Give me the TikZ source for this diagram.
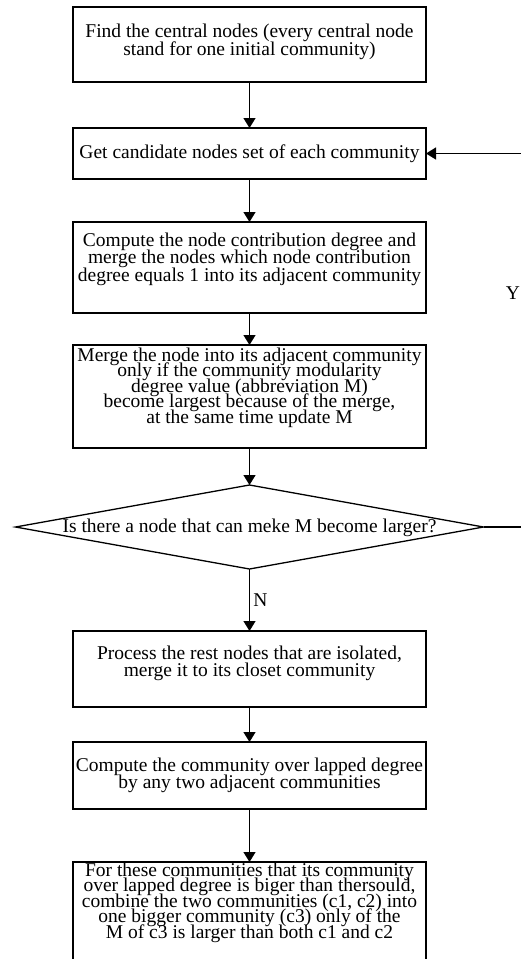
\documentclass[tikz,border=0pt]{standalone}
\usepackage{fontspec}
\setmainfont{Liberation Serif}
\usetikzlibrary{arrows.meta}
\usetikzlibrary{positioning, shapes.geometric}

\newcommand{\boxfont}{\fontsize{19.5}{17.5}\selectfont\lineskiplimit -100pt\relax}
\newcommand{\tightfont}{\fontsize{19.5}{15.4}\selectfont\lineskiplimit -100pt\relax}

\begin{document}
\begin{tikzpicture}[x=1pt,y=-1pt,
	every node/.style={font=\boxfont},
	block/.style={draw, line width=1.3pt, minimum width=353pt, inner xsep=1pt, inner ysep=0pt, outer sep=0pt, align=center},
	tight/.style={font=\tightfont},
	decision/.style={draw, diamond, line width=1.3pt, minimum width=468pt, minimum height=84pt, inner sep=0pt, outer sep=0pt, text height=10pt, text depth=0pt},
	flow/.style={-{Triangle[length=10pt,width=12pt]}, line width=1.3pt}]

	\useasboundingbox (0,0) rectangle (521,959);

	\node[block, text height=48pt, text depth=27pt] (central) at (249.5,44.5) {
		Find the central nodes (every central node\\
		stand for one initial community)};
	\node[block, text height=30pt, text depth=21pt, below=46pt of central] (candidate) {
		Get candidate nodes set of each community};
	\node[block, text height=59pt, text depth=32pt, below=43pt of candidate] (contrib) {
		Compute the node contribution degree and\\
		merge the nodes which node contribution\\
		degree equals 1 into its adjacent community};
	\node[block, tight, text height=78pt, text depth=25pt, below=32pt of contrib] (mergeM) {
		Merge the node into its adjacent community\\
		only if the community modularity\\
		degree value (abbreviation M)\\
		become largest because of the merge,\\
		at the same time update M};
	\node[decision, below=37pt of mergeM] (larger) {\makebox[0pt]{Is there a node that can meke M become larger?}};
	\node[block, text height=45.5pt, text depth=30.5pt, below=62pt of larger] (isolated) {
		Process the rest nodes that are isolated,\\
		merge it to its closet community};
	\node[block, text height=46.5pt, text depth=20.5pt, below=35pt of isolated] (overlap) {
		Compute the community over lapped degree\\
		by any two adjacent communities};
	\node[block, tight, text height=76pt, text depth=24pt, below=53pt of overlap] (combine) {
		For these communities that its community\\
		over lapped degree is biger than thersould,\\
		combine the two communities (c1, c2) into\\
		one bigger community (c3) only of the\\
		M of c3 is larger than both c1 and c2};

	\coordinate (loopx) at (545,0);
	\node (yes) at (513,293) {Y};

	\draw[flow] (central) -- (candidate);
	\draw[flow] (candidate) -- (contrib);
	\draw[flow] (contrib) -- (mergeM);
	\draw[flow] (mergeM) -- (larger);
	\draw[flow] (larger) -- (isolated) node[midway,right] {N};
	\draw[flow] (isolated) -- (overlap);
	\draw[flow] (overlap) -- (combine);
	\draw[flow] (larger.east) -- (larger.east -| loopx) |- (candidate.east);

\end{tikzpicture}
\end{document}
